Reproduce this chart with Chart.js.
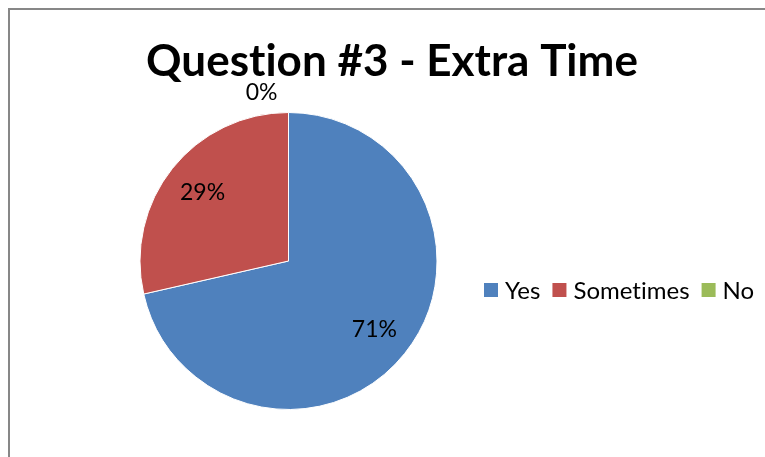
<!DOCTYPE html>
<html>
<head>
<meta charset="utf-8">
<script src="https://cdn.jsdelivr.net/npm/chart.js@4"></script>
<style>
  html, body { margin: 0; padding: 0; background: #fff; overflow: hidden; }
  #wrap { position: relative; width: 765px; height: 457px; }
  #frame { position: absolute; left: 8px; top: 8px; width: 800px; height: 500px; border: 2px solid #878787; }
  canvas { position: absolute; left: 0; top: 0; }
</style>
</head>
<body>
<div id="wrap">
  <div id="frame"></div>
  <canvas id="pie" width="765" height="457"></canvas>
</div>
<script>
const title = 'Question #3 - Extra Time';
const labels = ['Yes', 'Sometimes', 'No'];
const values = [5, 2, 0];
const colors = ['#4F81BD', '#C0504D', '#9BBB59'];

const FONT = 'Lato, "Open Sans", sans-serif';

// title, legend and percentage labels
const extras = {
  id: 'extras',
  afterDraw(chart) {
    const ctx = chart.ctx;
    const meta = chart.getDatasetMeta(0);
    const total = values.reduce((a, b) => a + b, 0);
    ctx.save();
    ctx.letterSpacing = '0.01px'; // no "ti" ligatures
    ctx.fillStyle = '#000';

    ctx.font = 'bold 44px ' + FONT;
    ctx.textAlign = 'center';
    ctx.textBaseline = 'alphabetic';
    ctx.fillText(title, 392, 76);

    ctx.font = '23px ' + FONT;
    ctx.textBaseline = 'middle';
    meta.data.forEach((arc, i) => {
      const pct = Math.round(values[i] / total * 100) + '%';
      const mid = (arc.startAngle + arc.endAngle) / 2;
      if (values[i] === 0) {
        const r = arc.outerRadius + 20;
        ctx.textAlign = 'right';
        ctx.fillText(pct, arc.x + Math.cos(mid) * r - 11, arc.y + Math.sin(mid) * r);
      } else {
        const r = arc.outerRadius * 0.74;
        ctx.textAlign = 'center';
        ctx.fillText(pct, arc.x + Math.cos(mid) * r, arc.y + Math.sin(mid) * r);
      }
    });

    // legend in one row
    ctx.font = '24px ' + FONT;
    ctx.textAlign = 'left';
    let x = 484;
    const y = 290;
    labels.forEach((lab, i) => {
      ctx.fillStyle = colors[i];
      ctx.fillRect(x, y - 7, 14, 14);
      ctx.fillStyle = '#000';
      ctx.fillText(lab, x + 21, y + 1);
      x += 21 + ctx.measureText(lab).width + 12;
    });
    ctx.restore();
  }
};

new Chart(document.getElementById('pie'), {
  type: 'pie',
  data: {
    labels: labels,
    datasets: [{
      data: values,
      backgroundColor: colors,
      borderColor: '#fff',
      borderWidth: 1
    }]
  },
  options: {
    responsive: false,
    animation: false,
    layout: { padding: { left: 139, right: 327, top: 112, bottom: 47 } },
    plugins: {
      legend: { display: false },
      title: { display: false },
      tooltip: { enabled: false }
    }
  },
  plugins: [extras]
});
</script>
</body>
</html>
